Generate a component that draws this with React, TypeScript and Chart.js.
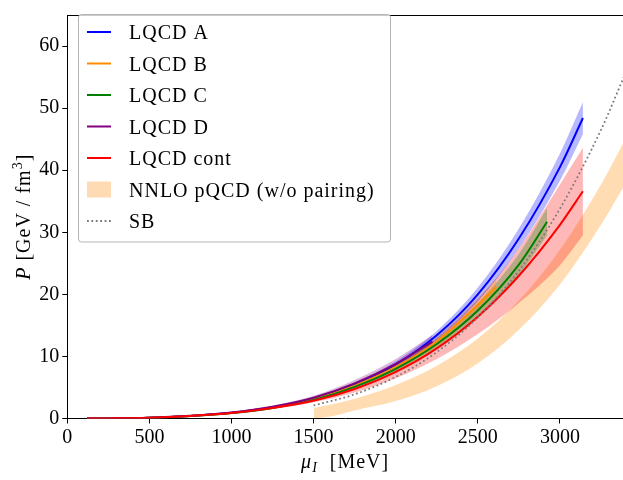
import React, { useEffect, useRef } from 'react';
import { Chart, registerables } from 'chart.js';
Chart.register(...registerables);

// ---------- data ----------
const muA = [120, 250, 500, 750, 1000, 1250, 1500, 1750, 2000, 2250, 2500, 2750, 3000, 3140];
const pA = [0, 0.02, 0.13, 0.42, 0.92, 1.8, 3.2, 5.5, 8.7, 13.4, 20.0, 29.0, 40.5, 48.4];
const pAhi = [0, 0.02, 0.14, 0.45, 0.98, 1.9, 3.4, 5.8, 9.2, 14.1, 21.1, 30.6, 42.7, 51.0];
const pAlo = [0, 0.02, 0.12, 0.39, 0.86, 1.7, 3.0, 5.2, 8.2, 12.7, 18.9, 27.4, 38.3, 45.8];

const muB = [120, 250, 500, 750, 1000, 1250, 1500, 1750, 2000, 2250, 2500, 2613];
const pB = [0, 0.02, 0.12, 0.41, 0.9, 1.75, 3.1, 5.3, 8.3, 12.4, 18.3, 21.2];
const pBhi = [0, 0.02, 0.13, 0.43, 0.95, 1.85, 3.3, 5.6, 8.8, 13.2, 19.4, 22.5];
const pBlo = [0, 0.02, 0.11, 0.39, 0.85, 1.65, 2.9, 5.0, 7.8, 11.6, 17.2, 19.9];

const muC = [120, 250, 500, 750, 1000, 1250, 1500, 1750, 2000, 2250, 2500, 2750, 2922];
const pC = [0, 0.02, 0.12, 0.4, 0.87, 1.7, 3.0, 5.1, 8.0, 12.0, 17.4, 24.8, 31.7];
const pChi = [0, 0.02, 0.13, 0.43, 0.93, 1.82, 3.2, 5.45, 8.55, 12.8, 18.6, 26.5, 33.9];
const pClo = [0, 0.02, 0.11, 0.37, 0.81, 1.58, 2.8, 4.75, 7.45, 11.2, 16.2, 23.1, 29.5];

const muD = [120, 250, 500, 750, 1000, 1250, 1500, 1750, 2000, 2224];
const pD = [0, 0.02, 0.14, 0.45, 0.97, 1.9, 3.35, 5.65, 8.8, 12.4];
const pDhi = [0, 0.02, 0.15, 0.49, 1.06, 2.07, 3.65, 6.2, 9.6, 13.5];
const pDlo = [0, 0.02, 0.13, 0.41, 0.88, 1.73, 3.05, 5.1, 8.0, 11.3];

const muCont = [120, 250, 500, 750, 1000, 1250, 1500, 1750, 2000, 2250, 2500, 2750, 3000, 3140];
const pCont = [0, 0.02, 0.13, 0.42, 0.88, 1.7, 2.85, 4.75, 7.5, 11.3, 16.4, 23.0, 31.2, 36.6];
const pConthi = [0, 0.02, 0.14, 0.45, 0.95, 1.85, 3.1, 5.3, 8.5, 13.0, 19.2, 27.4, 37.7, 43.6];
const pContlo = [0, 0.02, 0.12, 0.39, 0.81, 1.55, 2.6, 4.2, 6.5, 9.6, 13.6, 18.6, 24.7, 29.5];

const muPQ = [1500, 1600, 1750, 2000, 2250, 2500, 2750, 3000, 3250, 3400];
const pPQhi = [1.71, 2.21, 3.17, 5.4, 8.5, 12.9, 19.0, 27.2, 37.7, 45.1];
const pPQlo = [0, 0.33, 1.29, 2.8, 5.2, 8.9, 14.3, 21.6, 31.2, 37.9];

const muSB = [1500, 1750, 2000, 2250, 2500, 2750, 3000, 3250, 3400];
const pSB = [2.1, 3.9, 6.7, 10.7, 16.3, 23.8, 33.8, 46.5, 55.7];

const xTicks = [0, 500, 1000, 1500, 2000, 2500, 3000];
const yTicks = [0, 10, 20, 30, 40, 50, 60];

const legendLabels = ['LQCD A', 'LQCD B', 'LQCD C', 'LQCD D', 'LQCD cont', 'NNLO pQCD (w/o pairing)', 'SB'];

// ---------- styles ----------
const FONT = '"Liberation Serif", "Times New Roman", serif';
const C_A = '#0000ff';
const C_B = '#ff8c00';
const C_C = '#008000';
const C_D = '#800080';
const C_CONT = '#ff0000';
const C_SB = '#7a7a7a';
const BAND_A = 'rgba(0,0,255,0.28)';
const BAND_B = 'rgba(255,140,0,0.28)';
const BAND_C = 'rgba(0,128,0,0.28)';
const BAND_D = 'rgba(128,0,128,0.28)';
const BAND_CONT = 'rgba(255,0,0,0.28)';
const BAND_PQ = 'rgba(255,140,0,0.3)';
const PQ_PATCH = 'rgb(255,219,179)';
const SB_DASH = [1.8, 2.6];

const legendStyle = [
  { kind: 'line', color: C_A },
  { kind: 'line', color: C_B },
  { kind: 'line', color: C_C },
  { kind: 'line', color: C_D },
  { kind: 'line', color: C_CONT },
  { kind: 'patch', color: PQ_PATCH },
  { kind: 'dot', color: C_SB },
];

type Run = { t: string; font: string; dy?: number };

function drawRuns(ctx: CanvasRenderingContext2D, runs: Run[], cx: number, y: number) {
  let total = 0;
  const widths: number[] = [];
  for (const r of runs) {
    ctx.font = r.font;
    const w = ctx.measureText(r.t).width;
    widths.push(w);
    total += w;
  }
  let x = cx - total / 2;
  runs.forEach((r, i) => {
    ctx.font = r.font;
    ctx.fillText(r.t, x, y + (r.dy || 0));
    x += widths[i];
  });
}

const decor = {
  id: 'decor',
  afterDraw(chart: any) {
    const { ctx, chartArea: ca } = chart;
    ctx.save();
    // top frame line
    ctx.strokeStyle = '#000';
    ctx.lineWidth = 1;
    ctx.beginPath();
    ctx.moveTo(ca.left, Math.round(ca.top) + 0.5);
    ctx.lineTo(ca.right, Math.round(ca.top) + 0.5);
    ctx.stroke();

    ctx.fillStyle = '#000';
    ctx.textBaseline = 'alphabetic';
    ctx.textAlign = 'left';
    (ctx as any).letterSpacing = '1px';
    // x title
    drawRuns(ctx, [
      { t: 'μ', font: `italic 20px ${FONT}` },
      { t: 'I', font: `italic 14px ${FONT}`, dy: 4 },
      { t: '  [MeV]', font: `20px ${FONT}` },
    ], (ca.left + ca.right) / 2, 468);
    // y title
    ctx.save();
    ctx.translate(30, (ca.top + ca.bottom) / 2);
    ctx.rotate(-Math.PI / 2);
    drawRuns(ctx, [
      { t: 'P', font: `italic 20px ${FONT}` },
      { t: ' [GeV / fm', font: `20px ${FONT}` },
      { t: '3', font: `14px ${FONT}`, dy: -8 },
      { t: ']', font: `20px ${FONT}` },
    ], 0, 0);
    ctx.restore();

    // legend
    const bx = 78.5, by = 14.5, bw = 312, bh = 227.5;
    ctx.beginPath();
    if ((ctx as any).roundRect) (ctx as any).roundRect(bx, by, bw, bh, 3);
    else ctx.rect(bx, by, bw, bh);
    ctx.fillStyle = 'rgba(255,255,255,0.8)';
    ctx.fill();
    ctx.strokeStyle = '#b3b3b3';
    ctx.lineWidth = 1;
    ctx.stroke();

    legendLabels.forEach((label, i) => {
      const y = 32 + i * 31.5;
      const st = legendStyle[i];
      if (st.kind === 'patch') {
        ctx.fillStyle = st.color;
        ctx.fillRect(87, y - 8, 24, 16);
      } else {
        ctx.beginPath();
        ctx.strokeStyle = st.color;
        if (st.kind === 'dot') {
          ctx.lineWidth = 1.8;
          ctx.setLineDash(SB_DASH);
        } else {
          ctx.lineWidth = 2;
          ctx.setLineDash([]);
        }
        ctx.moveTo(87, y);
        ctx.lineTo(111, y);
        ctx.stroke();
        ctx.setLineDash([]);
      }
      ctx.fillStyle = '#000';
      ctx.font = `20px ${FONT}`;
      ctx.fillText(label, 129, y + 7.3);
    });
    (ctx as any).letterSpacing = '0px';
    ctx.restore();
  },
};

export default function App() {
  const ref = useRef<HTMLCanvasElement>(null);
  useEffect(() => {
    document.body.style.margin = '0';
    const canvas = ref.current!;
    const pts = (xs: number[], ys: number[]) => xs.map((x, i) => ({ x, y: ys[i] }));
    const band = (xs: number[], hi: number[], lo: number[], color: string, order: number) => [
      {
        data: pts(xs, hi), borderWidth: 0, borderColor: 'rgba(0,0,0,0)', pointRadius: 0,
        fill: '+1', backgroundColor: color, order, cubicInterpolationMode: 'monotone',
      },
      {
        data: pts(xs, lo), borderWidth: 0, borderColor: 'rgba(0,0,0,0)', pointRadius: 0,
        fill: false, order, cubicInterpolationMode: 'monotone',
      },
    ];
    const line = (xs: number[], ys: number[], color: string, extra: any = {}) => ({
      data: pts(xs, ys), borderColor: color, borderWidth: 2, pointRadius: 0, fill: false,
      order: 0, cubicInterpolationMode: 'monotone', ...extra,
    });
    const tickFont = { family: FONT, size: 20 };
    const plain = (v: any) => String(v);
    const chart = new Chart(canvas, {
      type: 'line',
      data: {
        datasets: [
          line(muSB, pSB, C_SB, { borderWidth: 1.8, borderDash: SB_DASH }),
          line(muCont, pCont, C_CONT),
          line(muD, pD, C_D),
          line(muC, pC, C_C),
          line(muB, pB, C_B),
          line(muA, pA, C_A),
          ...band(muA, pAhi, pAlo, BAND_A, 1),
          ...band(muB, pBhi, pBlo, BAND_B, 1),
          ...band(muC, pChi, pClo, BAND_C, 1),
          ...band(muD, pDhi, pDlo, BAND_D, 1),
          ...band(muCont, pConthi, pContlo, BAND_CONT, 1),
          ...band(muPQ, pPQhi, pPQlo, BAND_PQ, 2),
        ] as any,
      },
      options: {
        animation: false,
        responsive: false,
        parsing: false as any,
        normalized: true,
        layout: { padding: { top: 3, right: 0, left: 0, bottom: 0 } },
        plugins: { legend: { display: false }, tooltip: { enabled: false } },
        scales: {
          x: {
            type: 'linear',
            min: 0,
            max: 3384,
            afterBuildTicks: (axis: any) => { axis.ticks = xTicks.map((v) => ({ value: v })); },
            afterFit: (s: any) => { s.height = 61.5; },
            ticks: { font: tickFont, color: '#000', padding: 2, maxRotation: 0, autoSkip: false, callback: plain },
            grid: { display: true, drawOnChartArea: false, drawTicks: true, tickLength: 5, color: '#000', tickWidth: 1 },
            border: { display: true, color: '#000', width: 1 },
          },
          y: {
            type: 'linear',
            min: 0,
            max: 65,
            afterBuildTicks: (axis: any) => { axis.ticks = yTicks.map((v) => ({ value: v })); },
            afterFit: (s: any) => { s.width = 67.3; },
            ticks: { font: tickFont, color: '#000', padding: 3, autoSkip: false, callback: plain },
            grid: { display: true, drawOnChartArea: false, drawTicks: true, tickLength: 5, color: '#000', tickWidth: 1 },
            border: { display: true, color: '#000', width: 1 },
          },
        },
      } as any,
      plugins: [decor],
    });
    return () => chart.destroy();
  }, []);
  return <canvas ref={ref} width={623} height={480} style={{ display: 'block' }} />;
}
